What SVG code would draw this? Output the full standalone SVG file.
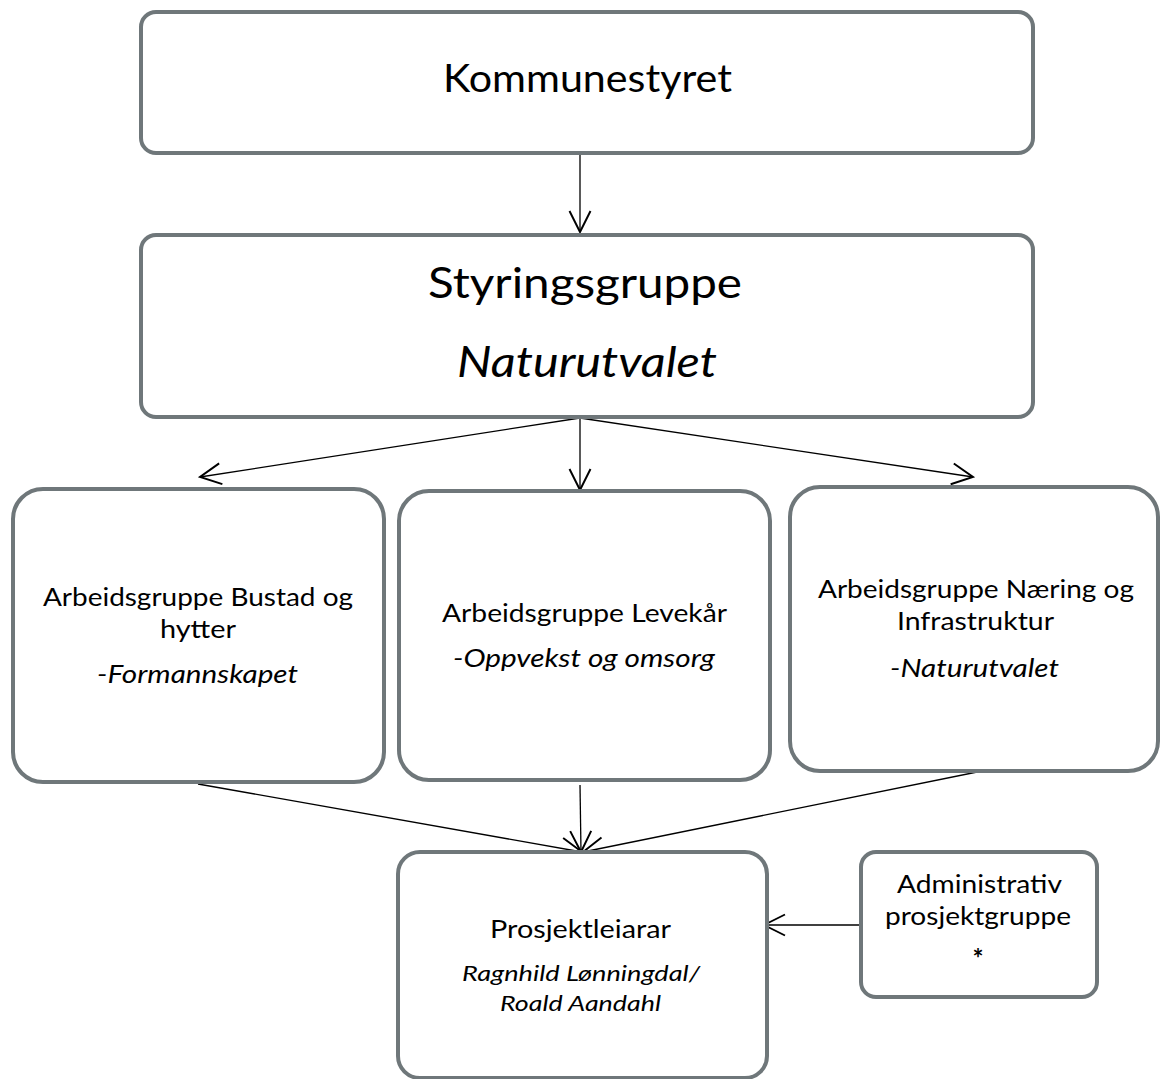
<svg xmlns="http://www.w3.org/2000/svg" width="1160" height="1079" viewBox="0 0 1160 1079">
<style>
.box{fill:#ffffff;stroke:#6f777a;stroke-width:4}
.t{font-family:Lato,"Liberation Sans",sans-serif;fill:#000;text-anchor:middle}
.i{font-style:italic}
.c{stroke:#000;stroke-width:1.3;fill:none;marker-end:url(#ah)}
</style>
<defs>
<marker id="ah" markerUnits="userSpaceOnUse" markerWidth="30" markerHeight="30" viewBox="-16 -10 20 20" refX="0" refY="0" orient="auto">
<path d="M-14,-7 L0,0 L-14,7" fill="none" stroke="#000" stroke-width="1.3"/>
</marker>
</defs>
<g id="connectors">
<line class="c" x1="580" y1="155" x2="580" y2="232"/>
<line class="c" x1="580" y1="418" x2="200" y2="477"/>
<line class="c" x1="580" y1="418" x2="580" y2="490"/>
<line class="c" x1="580" y1="418" x2="973" y2="477"/>
<line class="c" x1="198" y1="784" x2="582" y2="852"/>
<line class="c" x1="580" y1="785" x2="581" y2="852"/>
<line class="c" x1="987" y1="770" x2="583" y2="852"/>
<line class="c" x1="860" y1="925" x2="764" y2="925"/>
</g>
<g id="kommunestyret">
<rect class="box" x="141" y="12" width="892" height="141" rx="15"/>
<text class="t" x="587.5" y="92" font-size="39" textLength="289" lengthAdjust="spacingAndGlyphs">Kommunestyret</text>
</g>
<g id="styringsgruppe">
<rect class="box" x="141" y="235" width="892" height="182" rx="15"/>
<text class="t" x="585" y="298" font-size="43" textLength="314" lengthAdjust="spacingAndGlyphs">Styringsgruppe</text>
<text class="t i" x="587" y="377" font-size="43" textLength="260" lengthAdjust="spacingAndGlyphs">Naturutvalet</text>
</g>
<g id="bustad">
<rect class="box" x="13" y="489" width="371" height="293" rx="30"/>
<text class="t" x="198" y="606" font-size="25" textLength="310" lengthAdjust="spacingAndGlyphs">Arbeidsgruppe Bustad og</text>
<text class="t" x="198" y="638" font-size="25" textLength="76" lengthAdjust="spacingAndGlyphs">hytter</text>
<text class="t i" x="197.5" y="683" font-size="25" textLength="201" lengthAdjust="spacingAndGlyphs">-Formannskapet</text>
</g>
<g id="levekaar">
<rect class="box" x="399" y="491" width="371" height="289" rx="30"/>
<text class="t" x="584.5" y="622" font-size="25" textLength="285" lengthAdjust="spacingAndGlyphs">Arbeidsgruppe Levekår</text>
<text class="t i" x="584" y="667" font-size="25" textLength="262" lengthAdjust="spacingAndGlyphs">-Oppvekst og omsorg</text>
</g>
<g id="naering">
<rect class="box" x="790" y="487" width="368" height="284" rx="30"/>
<text class="t" x="976" y="598" font-size="25" textLength="316" lengthAdjust="spacingAndGlyphs">Arbeidsgruppe Næring og</text>
<text class="t" x="975.5" y="630" font-size="25" textLength="157" lengthAdjust="spacingAndGlyphs">Infrastruktur</text>
<text class="t i" x="974.5" y="677" font-size="25" textLength="169" lengthAdjust="spacingAndGlyphs">-Naturutvalet</text>
</g>
<g id="prosjektleiarar">
<rect class="box" x="398" y="852" width="369" height="226" rx="22"/>
<text class="t" x="580.5" y="938" font-size="25" textLength="181" lengthAdjust="spacingAndGlyphs">Prosjektleiarar</text>
<text class="t i" x="581" y="981" font-size="22" textLength="238" lengthAdjust="spacingAndGlyphs">Ragnhild Lønningdal/</text>
<text class="t i" x="580.5" y="1011" font-size="22" textLength="161" lengthAdjust="spacingAndGlyphs">Roald Aandahl</text>
</g>
<g id="administrativ">
<rect class="box" x="861" y="852" width="236" height="145" rx="15"/>
<text class="t" x="979.5" y="893" font-size="25" textLength="165" lengthAdjust="spacingAndGlyphs">Administrativ</text>
<text class="t" x="978" y="925" font-size="25" textLength="186" lengthAdjust="spacingAndGlyphs">prosjektgruppe</text>
<text class="t" x="978" y="968" font-size="26" font-weight="bold">*</text>
</g>
</svg>
